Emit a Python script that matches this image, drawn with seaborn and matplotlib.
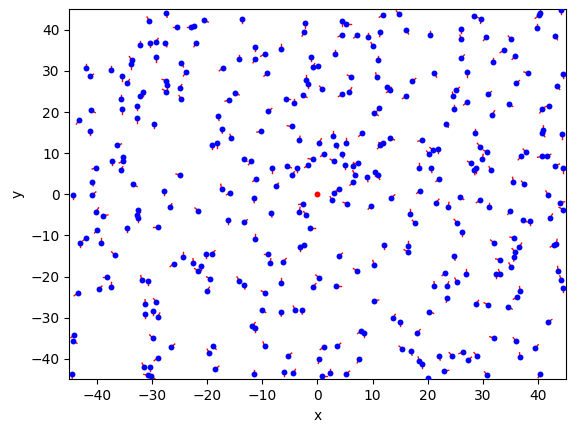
import numpy as np
import pandas as pd
import matplotlib
matplotlib.use("Agg")
import matplotlib.pyplot as plt
import seaborn as sns

# agent positions (x, y) and heading angles in degrees (direction of the red tail)
pos_x = [
    -27.4, -30.5, -25.4, -32.1, -30.3, -29.3, -27.7, -33.7, -33.9, -29.2, -41.9, -41.3, -37.4, -35.5, -34.5, -24.7,
    -23.9, -27.4, -27.2, -27.4, -25.0, -24.7, -31.7, -32.1, -35.7, -32.8, -35.5, -41.0, -43.3, -32.8, -29.6,
    -20.5, -13.6, -22.4, -22.9, -2.2, -2.4, -22.0, -11.3, -6.7, -14.2, -11.3, -9.6, -1.1, -0.9, -17.2, -9.1,
    -2.0, -1.7, -14.9, -16.0, -5.7, -4.2, -2.6, -8.9, -18.0, -4.7,
    11.9, 14.8, 4.5, 5.2, 4.5, 7.2, 9.2, 11.4, 16.1, 20.4, 10.1, 3.2, 0.1, 6.1, 10.7, 11.0, 21.2, 17.2, 0.9,
    4.5, 5.8, 12.6, 13.2, 16.1, 11.2, 10.3,
    28.4, 29.7, 40.1, 40.4, 44.2, 26.1, 26.1, 39.8, 30.6, 35.1, 43.1, 33.8, 35.8, 26.1, 31.8, 27.1, 38.2, 44.5,
    36.0, 43.4, 25.1, 24.6, 30.9, 27.1, 34.7, 24.8, 31.7, 40.7, 42.0, 23.3,
    -41.2, -36.3, -37.2, -35.2, -35.2, -35.7, -40.1, -40.8, -40.8, -44.4, -33.4, -27.9, -24.9, -40.1, -38.8,
    -32.5, -32.8, -32.5, -26.8, -34.6, -29.0, -39.9, -41.9, -43.0, -39.3,
    -17.4, -10.2, -15.6, -19.2, -18.3, -3.3, -13.4, -12.0, -8.2, -5.5, -3.7, -4.6, -0.9, -1.7, -11.1, -7.6,
    -17.4, -15.8, -11.6, -21.6, -2.6, -3.3, -2.0, -8.4, -16.3, -13.4, -1.3, -11.3, -3.1, -2.4,
    2.9, 0.3, 3.4, 5.2, 8.1, 13.2, 11.4, 11.9, 19.0, 21.0, 21.9, 20.3, 1.2, 4.5, 3.0, 5.0, 6.5, 7.4, 6.8, 10.5,
    11.0, 9.0, 18.4, 20.6, 22.1, 6.5, 3.9, 3.0, 2.7, 5.4, 9.7, 13.4, 18.6, 21.5, 16.8, 17.7, 12.1, 16.4, 16.4,
    28.6, 40.9, 40.7, 44.3, 29.5, 30.8, 29.9, 27.9, 28.8, 28.4, 31.5, 36.9, 37.8, 40.7, 41.6, 43.1, 44.5, 35.5,
    37.5, 41.8, 25.9, 23.7, 29.5, 31.1, 34.9, 44.0, 44.5, 42.2, 37.3, 38.6, 25.3, 26.2, 32.0, 35.7, 36.6, 35.8,
    42.9, 43.3,
    -36.8, -24.3, -26.1, -38.1, -39.7, -37.5, -31.9, -30.8, -43.5, -31.2, -29.2, -31.2, -29.9, -29.0, -44.1,
    -44.3, -29.9, -26.5, -29.0, -31.4, -30.3, -30.7, -30.1, -44.6,
    -20.3, -19.2, -8.9, -22.5, -21.1, -21.6, -8.6, -6.2, -19.4, -20.0, -14.2, -13.3, -9.5, -6.6, -0.8, -10.0,
    -6.7, -4.0, -2.9, -11.8, -11.3, -9.6, -5.3, -18.9, -19.6, -18.5, -11.6, -6.0, -4.4,
    3.9, 10.3, 7.2, 0.3, 3.4, 21.2, 10.3, 20.3, 13.7, 15.0, 18.1, 7.9, 8.5, 1.1, 3.6, 15.4, 17.0, 18.4, 19.0,
    22.1, 0.3, 7.6, 2.3, 0.9, 5.2, 20.1,
    24.8, 33.1, 35.7, 35.1, 23.2, 27.0, 25.3, 23.5, 32.4, 33.1, 43.6, 44.2, 44.5, 36.7, 36.2, 23.5, 28.8, 30.9,
    34.6, 41.8, 32.0, 36.0, 39.5, 36.7, 24.4, 26.4, 27.3, 28.9, 23.0, 30.8, 40.4,
]
pos_y = [
    44.1, 42.2, 40.7, 36.3, 36.8, 37.0, 36.8, 32.6, 31.6, 33.3, 30.7, 28.7, 30.2, 28.7, 27.0, 31.9,
    29.7, 27.6, 26.5, 25.0, 25.8, 23.1, 25.0, 23.9, 23.1, 21.6, 20.7, 20.4, 18.0, 18.5, 17.1,
    42.4, 42.6, 41.0, 40.6, 41.6, 39.4, 36.8, 35.8, 35.4, 32.9, 32.9, 34.1, 33.5, 30.9, 30.7, 29.4,
    27.9, 26.8, 24.7, 23.0, 23.3, 22.1, 24.1, 20.2, 19.0, 16.5,
    43.6, 43.8, 42.1, 41.4, 38.7, 38.7, 38.2, 39.4, 39.9, 38.7, 36.0, 34.1, 31.1, 28.5, 28.5, 32.6, 29.4, 27.5, 25.5,
    24.3, 25.0, 26.0, 25.3, 23.8, 20.9, 19.7,
    43.3, 42.6, 43.5, 44.0, 44.8, 40.2, 37.7, 40.4, 38.2, 37.7, 38.5, 35.0, 33.6, 33.1, 32.1, 29.7, 29.4, 29.2,
    27.0, 26.3, 25.3, 23.8, 24.3, 22.4, 21.9, 20.7, 19.4, 20.7, 21.6, 17.2,
    15.5, 11.9, 8.2, 9.0, 8.0, 5.8, 6.5, 3.1, -0.1, -0.1, 2.4, 0.9, 4.6, -4.2, -5.2,
    -3.7, -5.0, -5.7, -3.2, -8.1, -7.9, -8.6, -10.6, -11.8, -11.8,
    15.9, 15.3, 13.6, 12.1, 12.4, 13.1, 8.7, 8.0, 6.3, 6.8, 6.5, 4.6, 8.5, 7.2, 3.8, 1.9,
    1.4, 0.4, -1.0, -4.0, -2.3, -4.2, -5.0, -4.5, -6.2, -6.7, -8.1, -10.8, -12.8, -12.3,
    14.3, 12.6, 12.1, 12.6, 14.8, 13.6, 11.9, 12.4, 13.1, 10.7, 11.1, 9.7, 9.9, 9.9, 8.0, 7.2, 6.8, 7.5, 4.8, 5.5,
    4.6, 4.1, 6.5, 6.3, 3.8, 2.9, 1.4, 0.4, -1.5, -2.3, -2.8, -0.8, 0.9, -2.0, -4.7, -7.1, -12.3, -12.5, -14.0,
    14.9, 15.6, 14.8, 14.6, 11.6, 10.2, 8.7, 7.5, 6.3, 5.8, 5.8, 9.2, 10.2, 9.2, 9.2, 7.0, 6.3, 3.1,
    2.4, -0.1, -0.6, -3.0, -1.5, -3.2, -4.0, -2.0, -3.7, -5.7, -6.2, -6.4, -6.9, -9.1, -11.8, -10.6, -12.8, -14.0,
    -12.3, -12.0,
    -14.8, -15.2, -16.9, -20.1, -23.0, -22.5, -20.8, -21.0, -24.0, -26.7, -26.2, -29.1, -28.4, -29.8, -34.2,
    -35.7, -35.0, -37.1, -39.8, -42.0, -42.0, -44.0, -44.2, -43.7,
    -14.4, -14.4, -14.4, -16.7, -17.4, -18.6, -16.7, -16.4, -20.6, -23.5, -21.0, -22.0, -24.0, -21.5, -22.5, -28.1,
    -28.6, -28.1, -28.1, -32.0, -32.5, -36.9, -39.3, -36.9, -38.6, -42.5, -43.7, -43.2, -43.5,
    -15.0, -17.1, -18.6, -20.3, -22.3, -22.3, -25.9, -28.6, -30.1, -31.0, -33.7, -33.2, -33.7, -37.1, -36.9, -37.6,
    -38.1, -40.6, -41.3, -39.3, -40.1, -40.1, -43.5, -44.2, -43.7, -44.7,
    -15.0, -15.9, -15.2, -17.6, -19.1, -19.3, -21.3, -22.3, -19.3, -19.3, -18.6, -20.8, -22.8, -23.5, -25.0, -25.2,
    -26.7, -26.9, -27.4, -31.0, -35.0, -35.7, -37.4, -39.6, -39.3, -38.4, -40.3, -39.3, -43.0, -44.0, -43.7,
]
heading_deg = [
    280, 120, 180, 90, 270, 60, 300, 120, 270, 270, 90, 30, 90, 270, 60, 300,
    240, 160, 270, 150, 60, 120, 270, 20, 90, 270, 270, 330, 240, 270, 270,
    330, 270, 180, 180, 270, 240, 240, 270, 90, 90, 240, 210, 270, 60, 220, 220,
    90, 270, 330, 200, 0, 90, 330, 40, 280, 170,
    210, 130, 270, 0, 200, 220, 90, 260, 300, 90, 120, 90, 180, 150, 100, 90, 300, 40, 130,
    210, 60, 0, 210, 210, 230, 330,
    340, 260, 220, 85, 270, 270, 110, 90, 230, 130, 300, 210, 230, 50, 90, 270, 160, 280,
    40, 310, 40, 100, 40, 220, 330, 90, 60, 240, 200, 300,
    270, 20, 270, 270, 200, 60, 200, 280, 40, 270, 330, 270, 160, 60, 10,
    270, 30, 270, 60, 270, 180, 230, 220, 270, 90,
    280, 190, 110, 270, 270, 80, 320, 230, 270, 340, 270, 60, 170, 220, 220, 50,
    100, 210, 280, 140, 190, 80, 130, 280, 270, 30, 0, 90, 270, 180,
    90, 60, 290, 90, 220, 340, 230, 170, 190, 140, 270, 130, 220, 280, 150, 270, 90, 180, 120, 270,
    290, 280, 90, 280, 220, 220, 220, 30, 120, 160, 230, 40, 220, 50, 90, 130, 270, 90, 150,
    90, 85, 310, 270, 130, 150, 80, 150, 270, 280, 120, 230, 130, 190, 30, 20, 270, 100,
    130, 120, 320, 80, 210, 90, 240, 10, 150, 60, 330, 270, 130, 270, 140, 170, 60, 130,
    210, 80,
    130, 90, 220, 180, 40, 90, 100, 270, 220, 95, 130, 270, 270, 60, 220,
    330, 130, 40, 220, 120, 270, 170, 320, 280,
    270, 40, 180, 95, 270, 150, 80, 50, 150, 60, 120, 280, 150, 90, 50, 320,
    280, 120, 280, 50, 270, 110, 40, 310, 120, 40, 90, 270, 60,
    40, 110, 150, 140, 0, 95, 10, 340, 60, 270, 50, 220, 270, 220, 40, 140,
    280, 100, 270, 280, 260, 240, 90, 0, 40, 270,
    280, 170, 260, 120, 220, 90, 120, 70, 270, 110, 95, 110, 270, 95, 210, 260,
    60, 150, 330, 30, 160, 130, 50, 95, 130, 200, 40, 130, 10, 130, 240,
]
leader_x = [0.0]
leader_y = [0.0]

n = min(len(pos_x), len(pos_y), len(heading_deg))
px = np.array(pos_x[:n])
py = np.array(pos_y[:n])
ang = np.deg2rad(np.array(heading_deg[:n]))

# tail length (a few px on screen in each direction)
tx = px + 0.8 * np.cos(ang)
ty = py + 1.05 * np.sin(ang)

seg = pd.DataFrame({
    "x": np.concatenate([px, tx]),
    "y": np.concatenate([py, ty]),
    "id": np.concatenate([np.arange(n), np.arange(n)]),
    "k": np.concatenate([np.zeros(n), np.ones(n)]),
}).sort_values(["id", "k"])

fig = plt.figure(figsize=(5.74, 4.32), dpi=100)
ax = fig.add_axes([69.3 / 574, 1 - 379.3 / 432, 496.4 / 574, 370 / 432])

sns.lineplot(data=seg, x="x", y="y", units="id", estimator=None, sort=False,
             color="red", linewidth=1.0, ax=ax, legend=False)
sns.scatterplot(x=px, y=py, color="blue", s=18, linewidth=0, ax=ax, zorder=3, legend=False)
sns.scatterplot(x=leader_x, y=leader_y, color="red", s=18, linewidth=0, ax=ax, zorder=4, legend=False)

ax.set_xlim(-45, 45)
ax.set_ylim(-45, 45)
ax.set_xlabel("x")
ax.set_ylabel("y")

fig.savefig("out.png", dpi=100)
